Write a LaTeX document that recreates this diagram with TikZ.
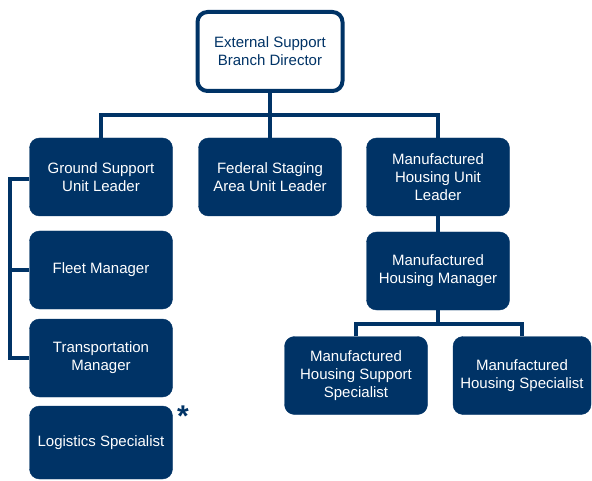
\documentclass[tikz,border=0pt]{standalone}
\usepackage{fontspec}
\setmainfont{Liberation Sans}
\usetikzlibrary{positioning,calc}
\definecolor{navy}{RGB}{0,51,102}
\tikzset{
  unit/.style={rectangle, rounded corners=10pt, fill=navy, draw=navy, text=white,
    minimum width=143pt, minimum height=78pt, inner sep=2pt, align=center,
    font=\fontsize{15}{18}\selectfont},
  head/.style={unit, fill=white, text=navy, line width=4pt,
    minimum width=145pt, minimum height=79pt},
  link/.style={draw=navy, line width=4pt}
}
\begin{document}
\begin{tikzpicture}[x=1pt,y=-1pt]
  \useasboundingbox (0,0) rectangle (592,481);
  % top of the chart
  \node[head] (dir) at (270,51.5) {External Support\\Branch Director};
  % second row
  \node[unit] (gsul) at (101,177) {Ground Support\\Unit Leader};
  \node[unit] (fsaul) at (270,177) {Federal Staging\\Area Unit Leader};
  \node[unit] (mhul) at (438,177) {Manufactured\\Housing Unit\\Leader};
  % left column
  \node[unit] (fleet) at (101,270) {Fleet Manager};
  \node[unit] (trans) at (101,358) {Transportation\\Manager};
  \node[unit, minimum height=73pt] (logi) at (101,442.5) {Logistics Specialist};
  \node[text=navy, font=\bfseries\fontsize{30}{30}\selectfont, inner sep=0pt] (star) at (183,416) {*};
  % right branch
  \node[unit] (mhm) at (438,271) {Manufactured\\Housing Manager};
  \node[unit] (mhss) at (356,375.5) {Manufactured\\Housing Support\\Specialist};
  \node[unit, minimum width=138pt] (mhs) at (522,375.5) {Manufactured\\Housing Specialist};
  % connectors
  \coordinate (bus) at (270,115);
  \coordinate (spine) at (10,179);
  \coordinate (mhbus) at (438,324);
  \draw[link] (dir.south) -- (bus);
  \draw[link] (gsul.north) |- (bus) -| (mhul.north);
  \draw[link] (bus) -- (fsaul.north);
  \draw[link] (gsul.west |- spine) -- (spine) |- (trans.west);
  \draw[link] (fleet.west) -- (fleet.west -| spine);
  \draw[link] (mhul.south) -- (mhm.north);
  \draw[link] (mhm.south) -- (mhbus);
  \draw[link] (mhss.north) |- (mhbus) -| (mhs.north);
\end{tikzpicture}
\end{document}
